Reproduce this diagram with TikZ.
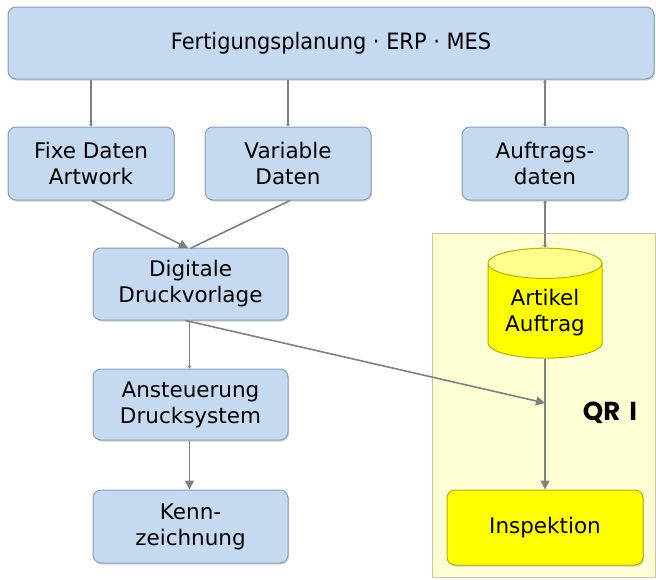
\documentclass[tikz,border=0pt]{standalone}
\usepackage{fontspec}
\setmainfont{DejaVu Sans}
\newfontfamily\condfont[FakeStretch=0.93]{DejaVu Sans}
\newfontfamily\qrfont{Poppins}
\usetikzlibrary{shapes.geometric,arrows.meta,shadows}
\definecolor{boxblue}{RGB}{197,217,240}
\definecolor{boxedge}{RGB}{135,160,190}
\definecolor{arrgray}{RGB}{128,128,128}
\definecolor{panelfill}{RGB}{255,255,214}
\definecolor{paneledge}{RGB}{200,200,160}
\definecolor{yel}{RGB}{255,255,0}
\definecolor{yeltop}{RGB}{255,255,140}
\definecolor{yeledge}{RGB}{185,175,0}
\tikzset{
  x=1pt,y=-1pt,
  box/.style={rectangle, rounded corners=8pt, fill=boxblue, draw=boxedge, line width=1pt,
    align=center, inner sep=0pt, font=\fontsize{21.5}{26}\selectfont,
    drop shadow={opacity=0.35, shadow xshift=1pt, shadow yshift=-1.5pt}},
  ybox/.style={box, fill=yel, draw=yeledge},
  arr/.style={draw=arrgray, line width=1.6pt, -{Triangle[length=9pt,width=9pt]}},
  plain/.style={draw=arrgray, line width=1.6pt},
  tarr/.style={draw=arrgray, line width=1.6pt, -{Triangle[length=2.5pt,width=3.5pt]}},
  tdarr/.style={draw=arrgray, line width=1.6pt, {Triangle[length=2.5pt,width=3.5pt]}-{Triangle[length=2.5pt,width=3.5pt]}},
}
\begin{document}
\begin{tikzpicture}
\useasboundingbox (0,0) rectangle (656,579);
% panel
\node[draw=paneledge, fill=panelfill, line width=1pt, minimum width=223pt, minimum height=344pt, inner sep=0pt] (panel) at (543.5,405) {};
% nodes
\node[box, minimum width=646pt, minimum height=72pt, font=\condfont\fontsize{22.5}{26}\selectfont] (top) at (331,43) {Fertigungsplanung · ERP · MES};
\node[box, minimum width=166pt, minimum height=73pt] (fixe) at (91,163.5) {Fixe Daten\\Artwork};
\node[box, minimum width=166pt, minimum height=73pt] (var) at (288,163.5) {Variable\\Daten};
\node[box, minimum width=166pt, minimum height=73pt] (auf) at (545,163.5) {Auftrags-\\daten};
\node[box, minimum width=195pt, minimum height=72pt] (dig) at (190.5,284) {Digitale\\Druckvorlage};
\node[box, minimum width=195pt, minimum height=71pt] (ans) at (190.5,404.5) {Ansteuerung\\Drucksystem};
\node[box, minimum width=195pt, minimum height=73pt] (ken) at (190.5,526.5) {Kenn-\\zeichnung};
\node[cylinder, shape border rotate=90, aspect=0.38, minimum width=114pt, minimum height=110pt,
  cylinder uses custom fill, cylinder body fill=yel, cylinder end fill=yeltop,
  draw=yeledge, line width=1pt, align=center, inner sep=0pt,
  font=\fontsize{21.5}{26}\selectfont] (cyl) at (545,311) {\\[-6pt]Artikel\\Auftrag};
\node[ybox, minimum width=196pt, minimum height=75pt] (insp) at (545,527.5) {Inspektion};
\node[font=\qrfont\bfseries\fontsize{26}{28}\selectfont, anchor=center] (qr) at (610,413) {QR\hspace{9pt}I};
% connectors
\draw[tarr] (top.south -| fixe.north) -- (fixe.north);
\draw[tarr] (top.south -| var.north) -- (var.north);
\draw[tdarr] (top.south -| auf.north) -- (auf.north);
\draw[tdarr] (auf.south) -- (auf.south |- cyl.north);
\coordinate (m) at (188,248);
\draw[arr] ([xshift=1pt]fixe.south) -- (m);
\draw[plain] ([xshift=2pt]var.south) -- ([xshift=3pt]m);
\draw[tarr] ([xshift=-1pt]dig.south) -- ([xshift=-1pt]ans.north);
\draw[arr] ([xshift=-1pt]ans.south) -- ([xshift=-1pt]ken.north);
\coordinate (q) at (545,403);
\draw[arr] ([xshift=-5pt]dig.south) -- (q);
\draw[arr] (cyl.south) -- (insp.north);
\end{tikzpicture}
\end{document}
